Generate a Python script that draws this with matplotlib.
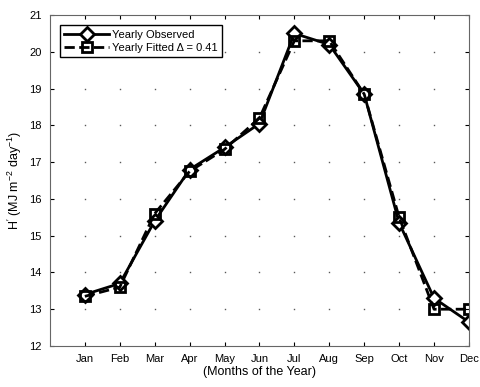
import matplotlib
matplotlib.use("Agg")
import matplotlib.pyplot as plt
import numpy as np

plt.rcParams['font.family'] = ['Liberation Sans', 'DejaVu Sans']
plt.rcParams['mathtext.fontset'] = 'custom'
plt.rcParams['mathtext.rm'] = 'Liberation Sans'
plt.rcParams['mathtext.it'] = 'Liberation Sans'

months = ['Jan', 'Feb', 'Mar', 'Apr', 'May', 'Jun', 'Jul', 'Aug', 'Sep', 'Oct', 'Nov', 'Dec']
observed = [13.4, 13.7, 15.4, 16.8, 17.4, 18.05, 20.5, 20.2, 18.85, 15.35, 13.3, 12.65]
fitted = [13.35, 13.6, 15.6, 16.75, 17.35, 18.2, 20.3, 20.3, 18.85, 15.5, 13.0, 13.0]
yticks = np.arange(12, 22, 1)

x = np.arange(1, 13)

fig = plt.figure(figsize=(4.8, 3.87), dpi=100)
ax = fig.add_axes([0.104, 0.106, 0.873, 0.855])

# matlab style grid: just dots at the intersections
gx, gy = np.meshgrid(x[:-1], yticks[1:-1])
ax.plot(gx.ravel(), gy.ravel(), 's', ms=1, color='0.35', mew=0, zorder=0)

ax.plot(x, observed, '-', color='black', lw=2, marker='D', ms=7.5,
        mfc='white', mec='black', mew=2, label='Yearly Observed')
ax.plot(x, fitted, '--', color='black', lw=2, marker='s', ms=7.5,
        mfc='none', mec='black', mew=2, label='Yearly Fitted \u0394 = 0.41')

ax.set_xlim(0, 12)
ax.set_ylim(12, 21)
ax.set_xticks(x)
ax.set_xticklabels(months)
ax.set_yticks(yticks)
ax.tick_params(labelsize=8, direction='in', top=True, right=True, length=3, pad=6)
for s in ax.spines.values():
    s.set_color('0.4')

ax.set_xlabel('(Months of the Year)', fontsize=9, labelpad=1)
ax.set_ylabel(r'H$^{\prime}$ (MJ m$^{-2}$ day$^{-1}$)', fontsize=9)

leg = ax.legend(loc='upper left', fontsize=8, fancybox=False, framealpha=1,
                edgecolor='black', handlelength=4, borderpad=0.4, labelspacing=0.3,
                handletextpad=0.3, borderaxespad=0.9)
leg.get_frame().set_linewidth(1)

fig.savefig('out.png', dpi=100)
